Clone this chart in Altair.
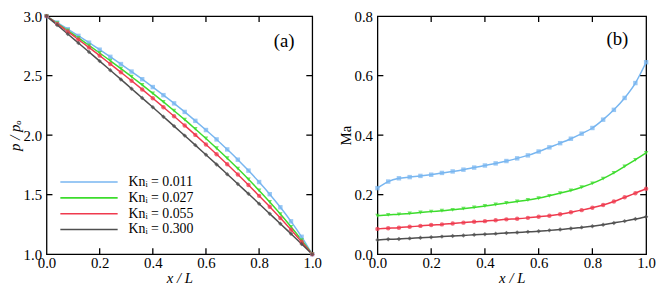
import altair as alt
import pandas as pd

x_vals = [0.00, 0.04, 0.08, 0.12, 0.16, 0.20, 0.24, 0.28, 0.32, 0.36, 0.40, 0.44, 0.48,
          0.52, 0.56, 0.60, 0.64, 0.68, 0.72, 0.76, 0.80, 0.84, 0.88, 0.92, 0.96, 1.00]

series_labels = ["Knᵢ = 0.011", "Knᵢ = 0.027", "Knᵢ = 0.055", "Knᵢ = 0.300"]
colors = ["#78B6F0", "#3CDC2C", "#EF3A4E", "#4F4F4F"]
shapes = ["square", "triangle-down", "circle", "diamond"]

# panel (a): p / p_o
p_011 = [3.000, 2.946, 2.890, 2.834, 2.777, 2.718, 2.658, 2.597, 2.534, 2.470, 2.404, 2.336, 2.267,
         2.195, 2.120, 2.043, 1.964, 1.880, 1.794, 1.702, 1.606, 1.504, 1.394, 1.276, 1.146, 1.000]
p_027 = [3.000, 2.940, 2.879, 2.817, 2.754, 2.690, 2.625, 2.559, 2.491, 2.422, 2.351, 2.279, 2.205,
         2.130, 2.052, 1.972, 1.890, 1.806, 1.719, 1.629, 1.535, 1.438, 1.337, 1.230, 1.118, 1.000]
p_055 = [3.000, 2.935, 2.870, 2.803, 2.736, 2.668, 2.598, 2.528, 2.457, 2.384, 2.310, 2.235, 2.159,
         2.081, 2.002, 1.921, 1.839, 1.755, 1.669, 1.581, 1.490, 1.398, 1.303, 1.205, 1.104, 1.000]
p_300 = [3.000, 2.925, 2.850, 2.774, 2.698, 2.622, 2.545, 2.468, 2.390, 2.312, 2.234, 2.155, 2.076,
         1.996, 1.916, 1.835, 1.754, 1.672, 1.590, 1.507, 1.424, 1.340, 1.256, 1.171, 1.086, 1.000]

# panel (b): Ma
ma_011 = [0.222, 0.244, 0.255, 0.259, 0.263, 0.267, 0.273, 0.278, 0.284, 0.291, 0.298, 0.305, 0.313,
          0.322, 0.332, 0.345, 0.359, 0.373, 0.388, 0.405, 0.424, 0.452, 0.485, 0.525, 0.575, 0.645]
ma_027 = [0.129, 0.132, 0.134, 0.137, 0.140, 0.143, 0.146, 0.149, 0.153, 0.157, 0.162, 0.167, 0.172,
          0.177, 0.182, 0.188, 0.196, 0.205, 0.214, 0.225, 0.238, 0.254, 0.273, 0.295, 0.317, 0.340]
ma_055 = [0.085, 0.087, 0.089, 0.092, 0.095, 0.098, 0.100, 0.103, 0.106, 0.109, 0.111, 0.114, 0.117,
          0.119, 0.122, 0.126, 0.129, 0.134, 0.141, 0.148, 0.156, 0.165, 0.177, 0.191, 0.205, 0.220]
ma_300 = [0.048, 0.050, 0.051, 0.053, 0.055, 0.057, 0.059, 0.061, 0.063, 0.065, 0.067, 0.069, 0.071,
          0.073, 0.075, 0.077, 0.080, 0.083, 0.086, 0.090, 0.094, 0.099, 0.105, 0.111, 0.118, 0.126]

x_labels = [0.0, 0.2, 0.4, 0.6, 0.8, 1.0]
x_ticks = [0.2, 0.4, 0.6, 0.8]
p_labels = [1.0, 1.5, 2.0, 2.5, 3.0]
p_ticks = [1.5, 2.0, 2.5]
ma_labels = [0.0, 0.2, 0.4, 0.6, 0.8]
ma_ticks = [0.2, 0.4, 0.6]

H = 241
FONT = "Liberation Serif"
TICK = 6


def long_table(values):
    rows = []
    for s, vals in zip(series_labels, values):
        for x, v in zip(x_vals, vals):
            rows.append({"x": x, "v": v, "s": s})
    return pd.DataFrame(rows)


def panel(values, W, ydom, yticks, ylabels, ytitle, ytitle_style, tag, tag_x, tag_y, with_legend):
    df = long_table(values)
    xs = alt.Scale(domain=[0, 1], nice=False, zero=False)
    ys = alt.Scale(domain=ydom, nice=False, zero=False)
    cs = alt.Scale(domain=series_labels, range=colors)
    xaxis = alt.Axis(values=x_labels, format=".1f", title="x / L", titleFontStyle="italic",
                     labelPadding=2, titlePadding=0, orient="bottom", labelFlush=False)
    yaxis = alt.Axis(values=ylabels, format=".1f", title=ytitle, titleFontStyle=ytitle_style,
                     labelPadding=5, titlePadding=1, orient="left", labelFlush=False)
    if with_legend:
        leg = alt.Legend(orient="none", legendX=13, legendY=160, title=None,
                         symbolType="stroke", symbolSize=3364, symbolStrokeWidth=1.6,
                         labelFont=FONT, labelFontSize=14, labelColor="black",
                         labelOffset=10, clipHeight=16, rowPadding=0, padding=0)
    else:
        leg = None

    xt = pd.DataFrame({"v": x_ticks})
    yt = pd.DataFrame({"v": yticks})

    layers = []
    layers.append(alt.Chart(df).mark_line(interpolate="monotone", strokeWidth=1.5).encode(
        x=alt.X("x:Q", scale=xs, axis=xaxis),
        y=alt.Y("v:Q", scale=ys, axis=yaxis),
        color=alt.Color("s:N", scale=cs, legend=leg),
    ))
    for s, c, shp in zip(series_labels, colors, shapes):
        layers.append(alt.Chart(df[df["s"] == s]).mark_point(
            filled=True, size=20, opacity=0.75, shape=shp, color=c).encode(
            x=alt.X("x:Q", scale=xs, axis=xaxis),
            y=alt.Y("v:Q", scale=ys, axis=yaxis),
        ))
    layers.append(alt.Chart(xt).mark_rule(color="black", strokeWidth=1.3).encode(
        x=alt.X("v:Q", scale=xs, axis=xaxis), y=alt.value(H), y2=alt.value(H - TICK)))
    layers.append(alt.Chart(xt).mark_rule(color="black", strokeWidth=1.3).encode(
        x=alt.X("v:Q", scale=xs, axis=xaxis), y=alt.value(0), y2=alt.value(TICK)))
    layers.append(alt.Chart(yt).mark_rule(color="black", strokeWidth=1.3).encode(
        y=alt.Y("v:Q", scale=ys, axis=yaxis), x=alt.value(0), x2=alt.value(TICK)))
    layers.append(alt.Chart(yt).mark_rule(color="black", strokeWidth=1.3).encode(
        y=alt.Y("v:Q", scale=ys, axis=yaxis), x=alt.value(W), x2=alt.value(W - TICK)))
    tag_df = pd.DataFrame({"x": [tag_x], "y": [tag_y], "t": [tag]})
    layers.append(alt.Chart(tag_df).mark_text(font=FONT, fontSize=19, color="black").encode(
        x=alt.X("x:Q", scale=xs, axis=xaxis), y=alt.Y("y:Q", scale=ys, axis=yaxis), text="t:N"))

    return alt.layer(*layers).properties(width=W, height=H)


left = panel([p_011, p_027, p_055, p_300], 269, [1, 3], p_ticks, p_labels, "p / pₒ", "italic",
             "(a)", 0.894, 2.79, True)
right = panel([ma_011, ma_027, ma_055, ma_300], 272, [0, 0.8], ma_ticks, ma_labels, "Ma", "normal",
              "(b)", 0.893, 0.724, False)

chart = alt.hconcat(left, right, spacing=66, bounds="flush").resolve_scale(
    color="independent"
).resolve_legend(color="independent").properties(
    autosize=alt.AutoSizeParams(type="none"),
    padding={"left": 39, "top": 5, "right": 617, "bottom": 274},
).configure_view(stroke="black", strokeWidth=1.3).configure_axis(
    labelFont=FONT, labelFontSize=15, labelColor="black",
    titleFont=FONT, titleFontSize=15, titleFontWeight="normal", titleColor="black",
    domain=False, ticks=False, grid=False,
)

chart.save("out.html", embed_options={"renderer": "svg", "actions": False})
